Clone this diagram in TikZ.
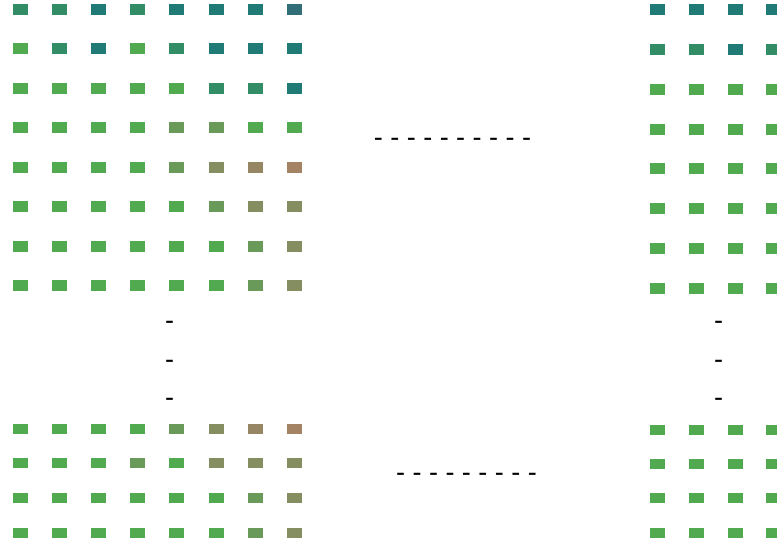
\documentclass[tikz,border=0pt]{standalone}
\usepackage{fontspec}
\setmainfont{Liberation Sans}

\definecolor{cT}{RGB}{32,122,118}
\definecolor{cTB}{RGB}{50,110,120}
\definecolor{cTG}{RGB}{50,140,102}
\definecolor{cG}{RGB}{82,170,80}
\definecolor{cGG}{RGB}{106,154,90}
\definecolor{cO}{RGB}{132,142,96}
\definecolor{cB}{RGB}{150,134,100}
\definecolor{cR}{RGB}{164,130,100}

\begin{document}
\begin{tikzpicture}[
    x=1pt, y=-1pt,
    cell/.style={rectangle, inner sep=0pt, minimum width=15pt, minimum height=11pt},
    lowcell/.style={cell, minimum height=10pt},
    gap/.style={inner sep=0pt, anchor=base, font=\fontsize{27}{27}\selectfont}
]
\useasboundingbox (0,0) rectangle (777,547);
\clip (0,0) rectangle (777,547);

% Left block, upper rows
\foreach \row [count=\r] in {
    {cTG,cTG,cT,cTG,cT,cT,cT,cTB},
    {cG,cTG,cT,cG,cTG,cT,cT,cT},
    {cG,cG,cG,cG,cG,cTG,cTG,cT},
    {cG,cG,cG,cG,cGG,cGG,cG,cG},
    {cG,cG,cG,cG,cGG,cO,cB,cR},
    {cG,cG,cG,cG,cG,cGG,cO,cO},
    {cG,cG,cG,cG,cG,cG,cGG,cO},
    {cG,cG,cG,cG,cG,cG,cGG,cO}}{
  \foreach \col [count=\c] in \row {
    \node (L-\r-\c) [cell, fill=\col] at ({20.5+39.1*(\c-1)}, {9.5+39.43*(\r-1)}) {};
  }
}

% Left block, lower rows
\foreach \row [count=\r] in {
    {cG,cG,cG,cG,cGG,cO,cB,cR},
    {cG,cG,cG,cGG,cG,cO,cO,cO},
    {cG,cG,cG,cG,cG,cG,cGG,cO},
    {cG,cG,cG,cG,cG,cG,cGG,cO}}{
  \foreach \col [count=\c] in \row {
    \node (LB-\r-\c) [lowcell, fill=\col] at ({20.5+39.1*(\c-1)}, {428.5+34.7*(\r-1)}) {};
  }
}

% Right block, upper rows
\foreach \row [count=\r] in {
    {cT,cT,cT,cT},
    {cTG,cTG,cT,cTG},
    {cG,cG,cG,cG},
    {cG,cG,cG,cG},
    {cG,cG,cG,cG},
    {cG,cG,cG,cG},
    {cG,cG,cG,cG},
    {cG,cG,cG,cG}}{
  \foreach \col [count=\c] in \row {
    \node (R-\r-\c) [cell, fill=\col] at ({657.5+38.8*(\c-1)}, {9.5+39.86*(\r-1)}) {};
  }
}

% Right block, lower rows
\foreach \r in {1,...,4}{
  \foreach \c in {1,...,4}{
    \node (RB-\r-\c) [lowcell, fill=cG] at ({657.5+38.8*(\c-1)}, {429.5+34.4*(\r-1)}) {};
  }
}

% Gaps
\foreach \y [count=\i] in {322,361,399}{
  \node (vl-\i) [gap] at (169.5, \y+7.3) {-};
  \node (vr-\i) [gap] at (718.5, \y+7.3) {-};
}
\node (htop) [gap] at (452.5, 146.3) {- - - - - - - - - -};
\node (hbot) [gap] at (466.5, 481.3) {- - - - - - - - -};

\end{tikzpicture}
\end{document}
